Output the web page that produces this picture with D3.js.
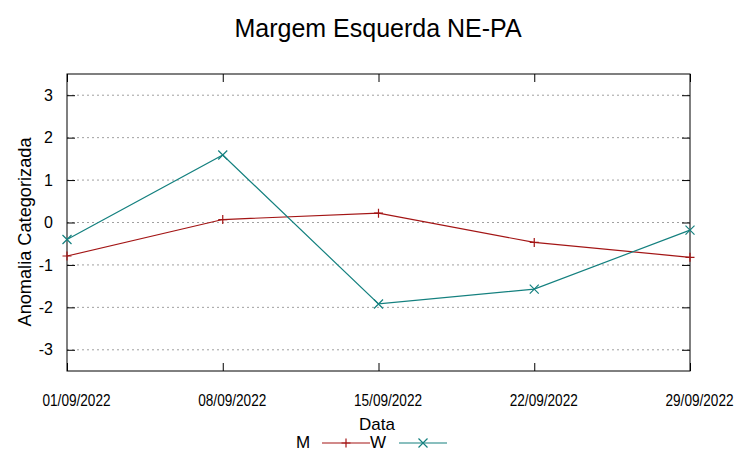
<!DOCTYPE html>
<html>
<head>
<meta charset="utf-8">
<script src="https://cdn.jsdelivr.net/npm/d3@7"></script>
<style>
  body { margin: 0; background: #fff; }
  text { font-family: "Liberation Sans", Arial, sans-serif; }
</style>
</head>
<body>
<svg id="chart" width="753" height="459"></svg>
<script>
// Chart data.
const dates = ["01/09/2022", "08/09/2022", "15/09/2022", "22/09/2022", "29/09/2022"];
const valuesM = [-0.79, 0.07, 0.22, -0.47, -0.82];
const valuesW = [-0.40, 1.59, -1.92, -1.57, -0.18];
const yTicks = [-3, -2, -1, 0, 1, 2, 3];

const svg = d3.select("#chart");
const plotL = 67, plotR = 690, plotT = 74, plotB = 371;

const parse = d3.timeParse("%d/%m/%Y");
const x = d3.scaleTime()
  .domain([parse(dates[0]), parse(dates[dates.length - 1])])
  .range([plotL, plotR]);
const y = d3.scaleLinear().domain([-3.5, 3.5]).range([plotB, plotT]);

// Horizontal grid lines.
svg.append("g")
  .selectAll("line")
  .data(yTicks).enter()
  .append("line")
  .attr("x1", plotL).attr("x2", plotR)
  .attr("y1", d => y(d)).attr("y2", d => y(d))
  .attr("stroke", "#a0a0a0")
  .attr("stroke-width", 1)
  .attr("stroke-dasharray", "2,3");

// Y axis, left with labels, right mirrored. Hyphen minus like gnuplot.
svg.append("g")
  .attr("transform", "translate(" + plotL + ",0)")
  .call(d3.axisLeft(y).tickValues(yTicks).tickSize(-8).tickPadding(14).tickFormat(d => String(d)))
  .call(g => g.select(".domain").remove())
  .call(g => g.selectAll("text").attr("font-size", 16).attr("fill", "#000"));
svg.append("g")
  .attr("transform", "translate(" + plotR + ",0)")
  .call(d3.axisRight(y).tickValues(yTicks).tickSize(-8).tickFormat(""))
  .call(g => g.select(".domain").remove());

// X axis. The reference font is narrow, so squeeze the labels.
svg.append("g")
  .attr("transform", "translate(0," + plotB + ")")
  .call(d3.axisBottom(x).tickValues(dates.map(parse)).tickSize(-8).tickPadding(24)
    .tickFormat(d3.timeFormat("%d/%m/%Y")))
  .call(g => g.select(".domain").remove())
  .call(g => g.selectAll("text")
    .attr("font-size", 16)
    .attr("textLength", 68)
    .attr("lengthAdjust", "spacingAndGlyphs")
    .attr("dx", 9)
    .attr("fill", "#000"));
svg.append("g")
  .attr("transform", "translate(0," + plotT + ")")
  .call(d3.axisTop(x).tickValues(dates.map(parse)).tickSize(-8).tickFormat(""))
  .call(g => g.select(".domain").remove());

// Frame.
svg.append("rect")
  .attr("x", plotL).attr("y", plotT)
  .attr("width", plotR - plotL).attr("height", plotB - plotT)
  .attr("fill", "none").attr("stroke", "#000").attr("stroke-width", 1);

// Series.
const series = [
  { name: "M", values: valuesM, color: "#a31515", marker: "plus" },
  { name: "W", values: valuesW, color: "#14807f", marker: "cross" }
];
const line = d3.line()
  .x((d, i) => x(parse(dates[i])))
  .y(d => y(d));

function marker(g, type, cx, cy, color) {
  const s = 4.5;
  let d;
  if (type === "plus") {
    d = `M${cx - s},${cy}H${cx + s}M${cx},${cy - s}V${cy + s}`;
  } else {
    d = `M${cx - s},${cy - s}L${cx + s},${cy + s}M${cx - s},${cy + s}L${cx + s},${cy - s}`;
  }
  g.append("path").attr("d", d)
    .attr("stroke", color).attr("stroke-width", 1.2).attr("fill", "none");
}

series.forEach(s => {
  svg.append("path")
    .datum(s.values)
    .attr("d", line)
    .attr("fill", "none")
    .attr("stroke", s.color)
    .attr("stroke-width", 1.2);
  const g = svg.append("g");
  s.values.forEach((v, i) => marker(g, s.marker, x(parse(dates[i])), y(v), s.color));
});

// Title and labels.
svg.append("text")
  .attr("x", 378).attr("y", 37)
  .attr("text-anchor", "middle")
  .attr("font-size", 25)
  .text("Margem Esquerda NE-PA");

svg.append("text")
  .attr("transform", "translate(31,232) rotate(-90)")
  .attr("text-anchor", "middle")
  .attr("font-size", 19)
  .attr("textLength", 189)
  .attr("lengthAdjust", "spacingAndGlyphs")
  .text("Anomalia Categorizada");

svg.append("text")
  .attr("x", 377).attr("y", 430)
  .attr("text-anchor", "middle")
  .attr("font-size", 17)
  .text("Data");

// Legend.
const legend = [
  { label: "M", tx: 303, x1: 322, x2: 370 },
  { label: "W", tx: 378, x1: 399, x2: 447 }
];
legend.forEach((l, i) => {
  const s = series[i];
  const ly = 443;
  svg.append("text")
    .attr("x", l.tx).attr("y", ly + 4.5)
    .attr("text-anchor", "middle")
    .attr("font-size", 17)
    .text(l.label);
  svg.append("line")
    .attr("x1", l.x1).attr("x2", l.x2)
    .attr("y1", ly).attr("y2", ly)
    .attr("stroke", s.color).attr("stroke-width", 1.2);
  marker(svg, s.marker, (l.x1 + l.x2) / 2, ly, s.color);
});
</script>
</body>
</html>
